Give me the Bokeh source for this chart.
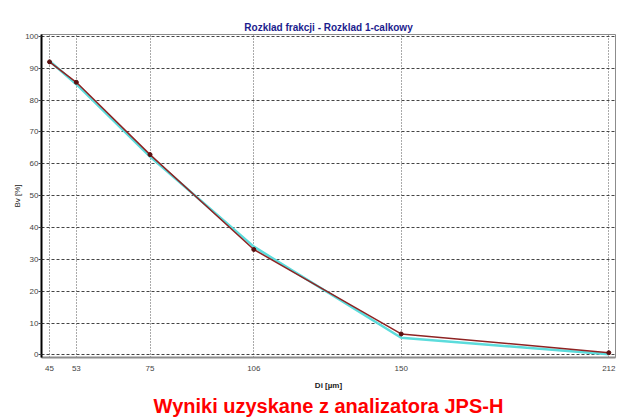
from bokeh.plotting import figure
from bokeh.models import FixedTicker, Range1d, Title
from bokeh.embed import file_html
from bokeh.resources import INLINE

# Data
sizes = [45, 53, 75, 106, 150, 212]
measured = [92.0, 85.6, 62.9, 33.1, 6.6, 0.7]
fitted = [92.3, 85.0, 62.3, 34.0, 5.4, 0.2]
y_ticks = [0, 10, 20, 30, 40, 50, 60, 70, 80, 90, 100]

title_text = "Rozklad frakcji - Rozklad 1-calkowy"
x_label = "Di [µm]"
y_label = "Bv [%]"
caption = "Wyniki uzyskane z analizatora JPS-H"

FONT = "Liberation Sans"

p = figure(width=634, height=418, output_backend="svg", toolbar_location=None,
           x_range=Range1d(42.6, 214.0), y_range=Range1d(-0.8, 100.6),
           min_border_left=41, min_border_right=19, min_border_top=34,
           min_border_bottom=61)

p.title.text = title_text
p.title.align = "center"
p.title.text_color = "#1c1c8e"
p.title.text_font = FONT
p.title.text_font_size = "10px"
p.title.text_font_style = "bold"
p.title.standoff = 4

p.outline_line_color = "#8c8c8c"
p.outline_line_width = 1
p.background_fill_color = "white"
p.border_fill_color = "white"

# axes
p.xaxis.ticker = FixedTicker(ticks=sizes)
p.yaxis.ticker = FixedTicker(ticks=y_ticks)
for ax in (p.xaxis[0], p.yaxis[0]):
    ax.major_label_text_font = FONT
    ax.major_label_text_font_size = "8px"
    ax.major_label_text_color = "#444444"
    ax.axis_label_text_font = FONT
    ax.axis_label_text_font_size = "8px"
    ax.axis_label_text_color = "#222222"
    ax.minor_tick_line_color = None

p.xaxis.axis_label = x_label
p.xaxis.axis_label_text_font_style = "bold"
p.xaxis.axis_label_standoff = 7
p.xaxis.major_tick_line_color = None
p.xaxis.major_label_standoff = 2
p.xaxis.axis_line_color = "#8c8c8c"
p.xaxis.axis_line_width = 2

p.yaxis.axis_label = y_label
p.yaxis.axis_label_text_font_style = "normal"
p.yaxis.axis_label_standoff = 0
p.yaxis.major_tick_out = 3
p.yaxis.major_tick_in = 0
p.yaxis.major_tick_line_color = "#444444"
p.yaxis.major_label_standoff = 0
p.yaxis.axis_line_color = "black"
p.yaxis.axis_line_width = 2

# grids: dotted verticals, dashed horizontals
p.xgrid.grid_line_color = "#555555"
p.xgrid.grid_line_dash = "1 2"
p.xgrid.grid_line_width = 1
p.ygrid.grid_line_color = "#444444"
p.ygrid.grid_line_dash = "3 2"
p.ygrid.grid_line_width = 1

# series
p.line(sizes, fitted, line_color="#5cdcdc", line_width=2.5)
p.line(sizes, measured, line_color="#8e2323", line_width=1.5)
p.scatter(sizes, measured, size=4, fill_color="#5a1010", line_color="#5a1010")

# slide caption below the chart
cap = Title(text=caption, align="center", text_color="#ff0000", text_font=FONT,
            text_font_size="20px", text_font_style="bold", standoff=0)
p.add_layout(cap, "below")

open("out.html", "w").write(file_html(p, INLINE))
